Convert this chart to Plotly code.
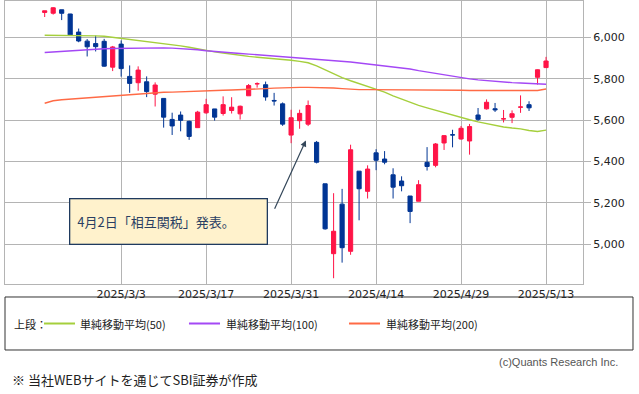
import plotly.graph_objects as go

dates = ["2025/2/18", "2025/2/19", "2025/2/20", "2025/2/21", "2025/2/24", "2025/2/25", "2025/2/26", "2025/2/27", "2025/2/28",
         "2025/3/3", "2025/3/4", "2025/3/5", "2025/3/6", "2025/3/7", "2025/3/10", "2025/3/11", "2025/3/12", "2025/3/13", "2025/3/14",
         "2025/3/17", "2025/3/18", "2025/3/19", "2025/3/20", "2025/3/21", "2025/3/24", "2025/3/25", "2025/3/26", "2025/3/27", "2025/3/28",
         "2025/3/31", "2025/4/1", "2025/4/2", "2025/4/3", "2025/4/4", "2025/4/7", "2025/4/8", "2025/4/9", "2025/4/10", "2025/4/11",
         "2025/4/14", "2025/4/15", "2025/4/16", "2025/4/17", "2025/4/21", "2025/4/22", "2025/4/23", "2025/4/24", "2025/4/25",
         "2025/4/28", "2025/4/29", "2025/4/30", "2025/5/1", "2025/5/2", "2025/5/5", "2025/5/6", "2025/5/7", "2025/5/8", "2025/5/9",
         "2025/5/12", "2025/5/13"]

opens = [6121.6, 6117.8, 6134.5, 6114.1, 6026.7, 5982.7, 5970.9, 5981.9, 5856.7,
         5968.3, 5812.0, 5781.4, 5785.9, 5726.0, 5705.4, 5603.7, 5624.8, 5594.5, 5563.9,
         5635.6, 5654.5, 5632.4, 5646.9, 5630.7, 5718.1, 5775.9, 5771.7, 5695.6, 5679.1,
         5527.9, 5597.5, 5580.8, 5492.7, 5292.1, 4953.8, 5193.6, 4965.3, 5353.2, 5255.6,
         5442.0, 5412.0, 5335.7, 5305.5, 5232.9, 5207.7, 5395.9, 5381.4, 5489.7,
         5529.2, 5508.9, 5499.4, 5625.1, 5655.0, 5655.3, 5606.0, 5614.0, 5663.0, 5675.0,
         5807.6, 5854.6]
highs = [6129.6, 6147.4, 6134.5, 6114.8, 6043.7, 5992.7, 6009.8, 5993.7, 5959.4,
         5986.1, 5865.1, 5860.6, 5812.1, 5783.0, 5705.4, 5636.3, 5642.2, 5597.8, 5645.3,
         5703.5, 5654.5, 5715.3, 5711.2, 5670.8, 5775.1, 5783.1, 5786.9, 5732.3, 5685.9,
         5650.6, 5650.8, 5695.3, 5499.5, 5292.1, 5246.6, 5267.5, 5481.3, 5353.2, 5381.5,
         5459.5, 5450.4, 5367.2, 5328.3, 5232.9, 5309.6, 5469.7, 5489.4, 5528.1,
         5553.7, 5572.0, 5581.8, 5658.9, 5700.7, 5683.4, 5649.5, 5647.5, 5720.1, 5691.7,
         5845.6, 5906.6]
lows = [6099.5, 6111.2, 6084.6, 6008.6, 5977.4, 5908.5, 5932.7, 5858.8, 5837.7,
        5810.9, 5732.6, 5742.4, 5711.6, 5666.3, 5564.0, 5528.4, 5546.1, 5504.7, 5563.9,
        5631.1, 5597.8, 5622.2, 5632.3, 5603.1, 5718.1, 5757.6, 5694.4, 5670.9, 5572.4,
        5488.7, 5558.5, 5571.5, 5390.8, 5069.9, 4835.0, 4910.4, 4948.4, 5115.3, 5220.8,
        5358.0, 5386.4, 5220.8, 5255.6, 5101.6, 5207.7, 5356.2, 5372.0, 5455.9,
        5468.6, 5505.7, 5433.2, 5597.4, 5651.4, 5640.0, 5589.1, 5585.9, 5635.6, 5644.6,
        5772.4, 5853.2]
closes = [6129.6, 6144.2, 6117.5, 6013.1, 5983.3, 5955.3, 5956.1, 5861.6, 5954.5,
          5849.7, 5778.2, 5842.6, 5738.5, 5770.2, 5614.6, 5572.1, 5599.3, 5521.5, 5638.9,
          5675.1, 5614.7, 5675.3, 5662.9, 5667.6, 5767.6, 5776.7, 5712.2, 5693.3, 5580.9,
          5611.9, 5633.1, 5671.0, 5396.5, 5074.1, 5062.3, 4982.8, 5456.9, 5268.1, 5363.4,
          5406.0, 5396.6, 5275.7, 5282.7, 5158.2, 5287.8, 5375.9, 5484.8, 5525.2,
          5528.8, 5560.8, 5569.1, 5604.1, 5686.7, 5650.4, 5606.9, 5631.3, 5663.9, 5659.9,
          5844.2, 5886.6]

sma50 = [6011, 6011, 6011, 6010, 6010, 6009, 6008, 6006, 6001,
         5994, 5989, 5986, 5982, 5977, 5972, 5967, 5960, 5953, 5945,
         5938, 5931, 5925, 5919, 5914, 5909, 5905, 5902, 5898, 5894,
         5890, 5885, 5878, 5863, 5844, 5825, 5806, 5791, 5777, 5762,
         5748, 5736, 5718, 5702, 5688, 5672, 5660, 5648, 5635,
         5623, 5612, 5602, 5592, 5583, 5574, 5567, 5562, 5558, 5550,
         5545, 5552]
sma100 = [5928, 5931, 5934, 5937, 5940, 5942, 5945, 5946, 5947,
          5948, 5948, 5949, 5949, 5950, 5950, 5949, 5947, 5945, 5941,
          5936, 5932, 5929, 5926, 5923, 5920, 5917, 5914, 5911, 5908,
          5905, 5903, 5900, 5897, 5894, 5890, 5887, 5882, 5877, 5872,
          5867, 5862, 5858, 5854, 5848, 5840, 5833, 5826, 5819,
          5812, 5806, 5800, 5795, 5791, 5788, 5785, 5782, 5780, 5778,
          5776, 5774]
sma200 = [5682, 5694, 5699, 5702, 5705, 5707, 5710, 5714, 5719,
          5722, 5725, 5727, 5729, 5732, 5735, 5736, 5738, 5739, 5741,
          5743, 5744, 5745, 5746, 5747, 5748, 5750, 5753, 5755, 5757,
          5759, 5759, 5759, 5759, 5759, 5756, 5753, 5750, 5748, 5748,
          5748, 5748, 5747, 5747, 5747, 5746, 5746, 5746, 5746,
          5745, 5745, 5744, 5744, 5743, 5743, 5743, 5743, 5743, 5743,
          5744, 5751]

tick_labels = ["2025/3/3", "2025/3/17", "2025/3/31", "2025/4/14", "2025/4/29", "2025/5/13"]
y_ticks = [5000, 5200, 5400, 5600, 5800, 6000]

ma_names = ["単純移動平均(50)", "単純移動平均(100)", "単純移動平均(200)"]
ma_colors = ["#a5cf3c", "#a448f5", "#ff6a45"]
RED = "#ff1447"
BLUE = "#003594"
GRID = "#b4b4b4"

fig = go.Figure()
for vals, name, col in zip([sma50, sma100, sma200], ma_names, ma_colors):
    fig.add_trace(go.Scatter(x=dates, y=vals, mode="lines", name=name,
                             line=dict(color=col, width=1.4), hoverinfo="skip"))

fig.add_trace(go.Candlestick(
    x=dates, open=opens, high=highs, low=lows, close=closes,
    increasing=dict(line=dict(color=RED, width=1), fillcolor=RED),
    decreasing=dict(line=dict(color=BLUE, width=1), fillcolor=BLUE),
    whiskerwidth=0, name="S&P"))

tickfont = dict(family="DejaVu Sans", size=11, color="#222222")
fig.update_layout(
    width=639, height=394,
    margin=dict(l=5, r=56, t=1, b=110),
    paper_bgcolor="white", plot_bgcolor="white",
    showlegend=False,
    xaxis=dict(type="category", range=[-4.67, 63.35], tickmode="array",
               tickvals=tick_labels, ticktext=tick_labels,
               showgrid=True, gridcolor=GRID, gridwidth=1,
               showline=True, linecolor=GRID, linewidth=1, mirror=True,
               ticks="", tickfont=tickfont, rangeslider=dict(visible=False)),
    yaxis=dict(side="right", range=[4807, 6177], tickmode="array", tickvals=y_ticks,
               tickformat=",d", showgrid=True, gridcolor=GRID, gridwidth=1,
               showline=True, linecolor=GRID, linewidth=1, mirror=True,
               ticks="outside", ticklen=7, tickcolor=GRID, zeroline=False,
               tickfont=tickfont),
)

# Callout box and arrow
fig.add_annotation(text="4月2日「相互関税」発表。", xref="paper", yref="paper",
                   x=0.1107, y=0.2226, xanchor="left", yanchor="middle",
                   showarrow=False, align="left", width=182, height=30,
                   bgcolor="#fff2cc", bordercolor="#1f3a5f", borderwidth=1.3, borderpad=7,
                   font=dict(family="Noto Sans CJK JP", size=13, color="#2a3f63"))
fig.add_annotation(text="", xref="x", yref="y", x=30.74, y=5502,
                   axref="x", ayref="y", ax=26.98, ay=5164,
                   showarrow=True, arrowhead=2, arrowsize=1, arrowwidth=1.2,
                   arrowcolor="#34475a")

# Legend box
fig.add_shape(type="rect", xref="paper", yref="paper", x0=0, x1=1.0865, y0=-0.2332, y1=-0.0459,
              line=dict(color="#333333", width=1), fillcolor="rgba(0,0,0,0)")
lfont = dict(family="Noto Sans CJK JP", size=11, color="#222222")
fig.add_annotation(text="上段：", xref="paper", yref="paper", x=0.0121, y=-0.1396,
                   xanchor="left", yanchor="middle", showarrow=False, font=lfont)
line_x = [(0.0675, 0.1211), (0.3183, 0.372), (0.5952, 0.6488)]
text_x = [0.1263, 0.3789, 0.6557]
for (a, b), tx, name, col in zip(line_x, text_x, ma_names, ma_colors):
    fig.add_shape(type="line", xref="paper", yref="paper", x0=a, x1=b, y0=-0.1396, y1=-0.1396,
                  line=dict(color=col, width=2))
    fig.add_annotation(text=name, xref="paper", yref="paper", x=tx, y=-0.1396,
                       xanchor="left", yanchor="middle", showarrow=False, font=lfont)

fig.add_annotation(text="(c)Quants Research Inc.", xref="paper", yref="paper", x=1.064, y=-0.2756,
                   xanchor="right", yanchor="middle", showarrow=False,
                   font=dict(family="Liberation Sans", size=11, color="#555555"))
fig.add_annotation(text="※ 当社WEBサイトを通じてSBI証券が作成", xref="paper", yref="paper", x=0.0087, y=-0.339,
                   xanchor="left", yanchor="middle", showarrow=False,
                   font=dict(family="Noto Sans CJK JP", size=13, color="#222222"))

fig.write_html("out.html", config={"displayModeBar": False},
               post_script="document.body.style.margin='0px';document.body.style.overflow='hidden';")
